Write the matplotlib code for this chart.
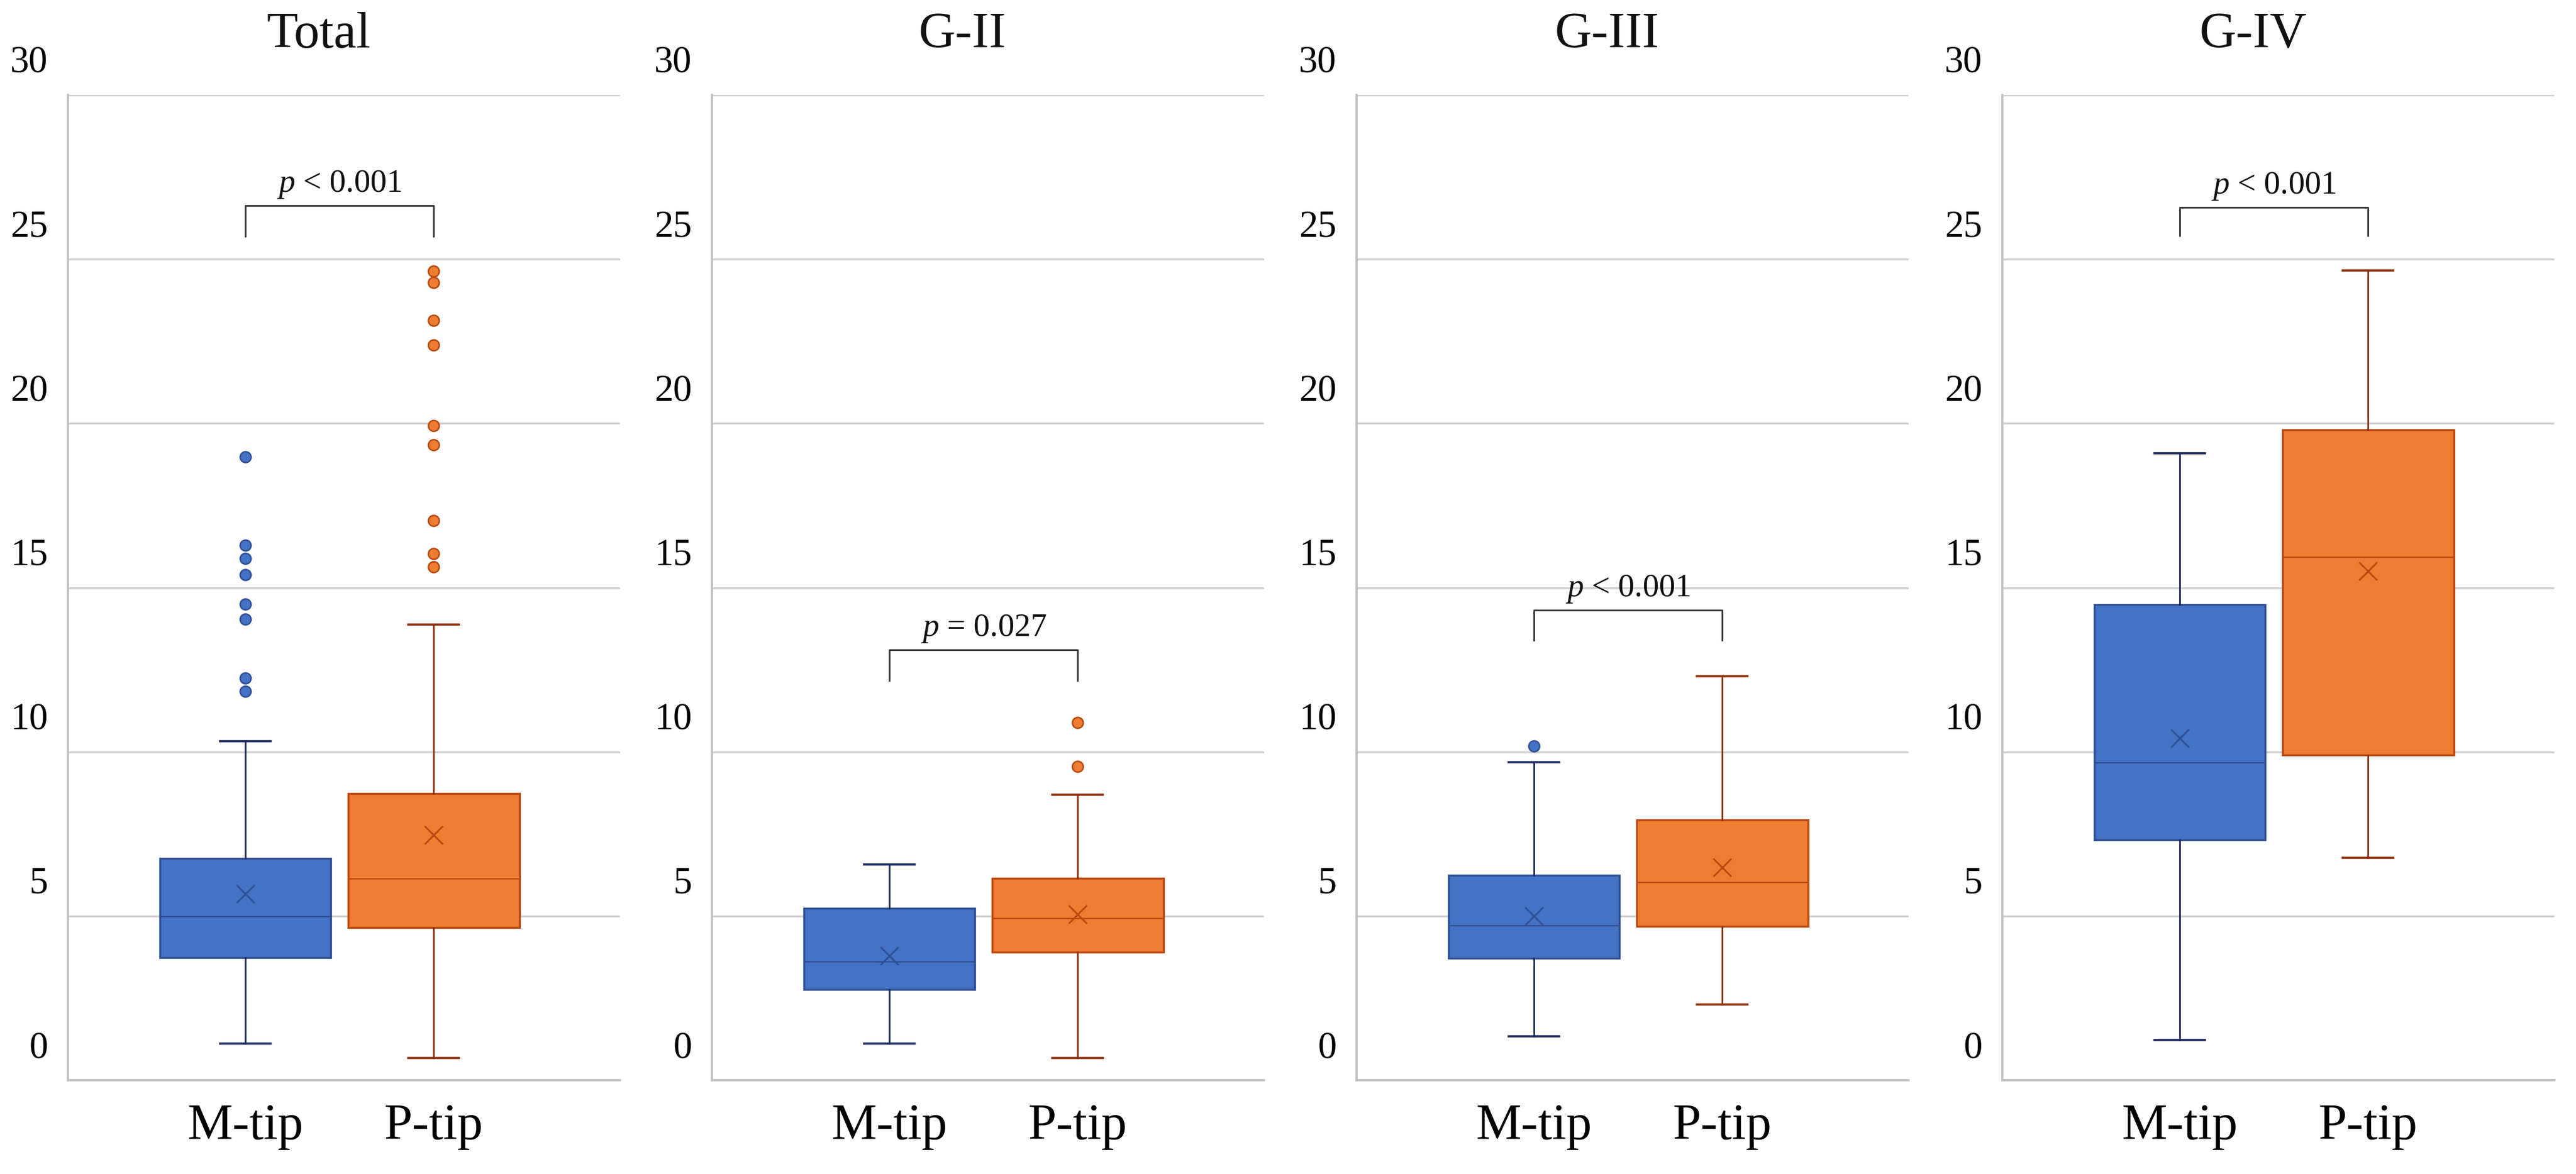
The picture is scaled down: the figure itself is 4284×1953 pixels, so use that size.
import matplotlib
matplotlib.use("Agg")
import matplotlib.pyplot as plt
import matplotlib.transforms as mtransforms

plt.rcParams['font.family'] = ['Liberation Serif', 'DejaVu Serif']
plt.rcParams['mathtext.fontset'] = 'custom'
plt.rcParams['mathtext.rm'] = 'Liberation Serif'
plt.rcParams['mathtext.it'] = 'Liberation Serif:italic'

# Datos
groups = ["Total", "G-II", "G-III", "G-IV"]
categories = ["M-tip", "P-tip"]

m_low = [1.12, 1.12, 1.34, 1.23]
m_q1 = [3.73, 2.77, 3.72, 7.32]
m_med = [4.98, 3.61, 4.70, 9.66]
m_q3 = [6.75, 5.24, 6.24, 14.48]
m_high = [10.32, 6.57, 9.68, 19.10]
m_mean = [5.67, 3.79, 5.00, 10.41]
m_fliers = [[11.84, 12.25, 14.04, 14.50, 15.39, 15.89, 16.29, 18.98], [], [10.18], []]

p_low = [0.68, 0.68, 2.31, 6.77]
p_q1 = [4.65, 3.90, 4.69, 9.91]
p_med = [6.13, 4.92, 6.02, 15.93]
p_q3 = [8.73, 6.15, 7.93, 19.81]
p_high = [13.87, 8.69, 12.30, 24.66]
p_mean = [7.47, 5.05, 6.48, 15.50]
p_fliers = [[15.63, 16.04, 17.05, 19.35, 19.93, 22.39, 23.14, 24.29, 24.64], [9.56, 10.89], [], []]

p_text = [r"$\it{p}$ < 0.001", r"$\it{p}$ = 0.027", r"$\it{p}$ < 0.001", r"$\it{p}$ < 0.001"]
bracket_bottom = [25.70, 12.17, 13.40, 25.72]
bracket_top = [26.63, 13.11, 14.31, 26.58]

y_ticks = [0, 5, 10, 15, 20, 25, 30]

# Estilos
BLUE = "#4472C4"
BLUE_EDGE = "#2F4F95"
BLUE_WHISK = "#1F2A5E"
ORANGE = "#ED7D31"
ORANGE_EDGE = "#B9470E"
ORANGE_WHISK = "#8E2E0C"
GRID = "#D0D0D0"

W, H = 4284, 1953
fig = plt.figure(figsize=(W / 100, H / 100), dpi=100)

lefts = [113, 1184, 2256, 3330]
ax_w = 918
ax_bottom = 156
ax_h = 1639

label_offset = mtransforms.ScaledTranslation(0, 0.60, fig.dpi_scale_trans)

for i, g in enumerate(groups):
    ax = fig.add_axes([lefts[i] / W, ax_bottom / H, ax_w / W, ax_h / H])

    stats_m = dict(whislo=m_low[i], q1=m_q1[i], med=m_med[i], q3=m_q3[i],
                   whishi=m_high[i], mean=m_mean[i], fliers=m_fliers[i], label=categories[0])
    stats_p = dict(whislo=p_low[i], q1=p_q1[i], med=p_med[i], q3=p_q3[i],
                   whishi=p_high[i], mean=p_mean[i], fliers=p_fliers[i], label=categories[1])

    series = [(stats_m, BLUE, BLUE_EDGE, BLUE_WHISK, 1), (stats_p, ORANGE, ORANGE_EDGE, ORANGE_WHISK, 2)]
    for st, fc, ec, wc, pos in series:
        ax.bxp([st], positions=[pos], widths=0.91, patch_artist=True, showmeans=True,
               capwidths=0.27,
               boxprops=dict(facecolor=fc, edgecolor=ec, linewidth=2.4),
               medianprops=dict(color=ec, linewidth=1.6),
               whiskerprops=dict(color=wc, linewidth=2.0),
               capprops=dict(color=wc, linewidth=2.6),
               meanprops=dict(marker="x", markersize=22, markeredgecolor=ec,
                              markeredgewidth=2.0, linestyle="none"),
               flierprops=dict(marker="o", markersize=13, markerfacecolor=fc,
                               markeredgecolor=ec, markeredgewidth=1.8),
               zorder=3)

    # llave de significancia
    ax.plot([1, 1, 2, 2], [bracket_bottom[i], bracket_top[i], bracket_top[i], bracket_bottom[i]],
            color="#333333", linewidth=2.0, zorder=4)
    ax.text(1.5, bracket_top[i] + 0.42, p_text[i], ha="center", va="baseline",
            fontsize=39, color="#111111", zorder=4)

    ax.set_xlim(0.0575, 2.99)
    ax.set_ylim(0, 30)
    ax.set_xticks([1, 2])
    ax.set_xticklabels(categories, fontsize=61)
    ax.set_yticks(y_ticks)
    ax.set_yticklabels([str(t) for t in y_ticks], fontsize=45)
    ax.tick_params(axis="both", length=0)
    ax.tick_params(axis="y", pad=24)
    ax.tick_params(axis="x", pad=28)
    for lab in ax.get_yticklabels():
        lab.set_transform(lab.get_transform() + label_offset)

    ax.yaxis.grid(True, color=GRID, linewidth=2.4, zorder=0)
    ax.set_axisbelow(True)
    for s in ["top", "right"]:
        ax.spines[s].set_visible(False)
    for s in ["left", "bottom"]:
        ax.spines[s].set_color("#C0C0C0")
        ax.spines[s].set_linewidth(2.6)

    ax.text(0.454, 1.0 + (158 - 79) / ax_h, g, transform=ax.transAxes,
            ha="center", va="baseline", fontsize=61, color="#111111")

fig.savefig("out.png", dpi=100, facecolor="white")
